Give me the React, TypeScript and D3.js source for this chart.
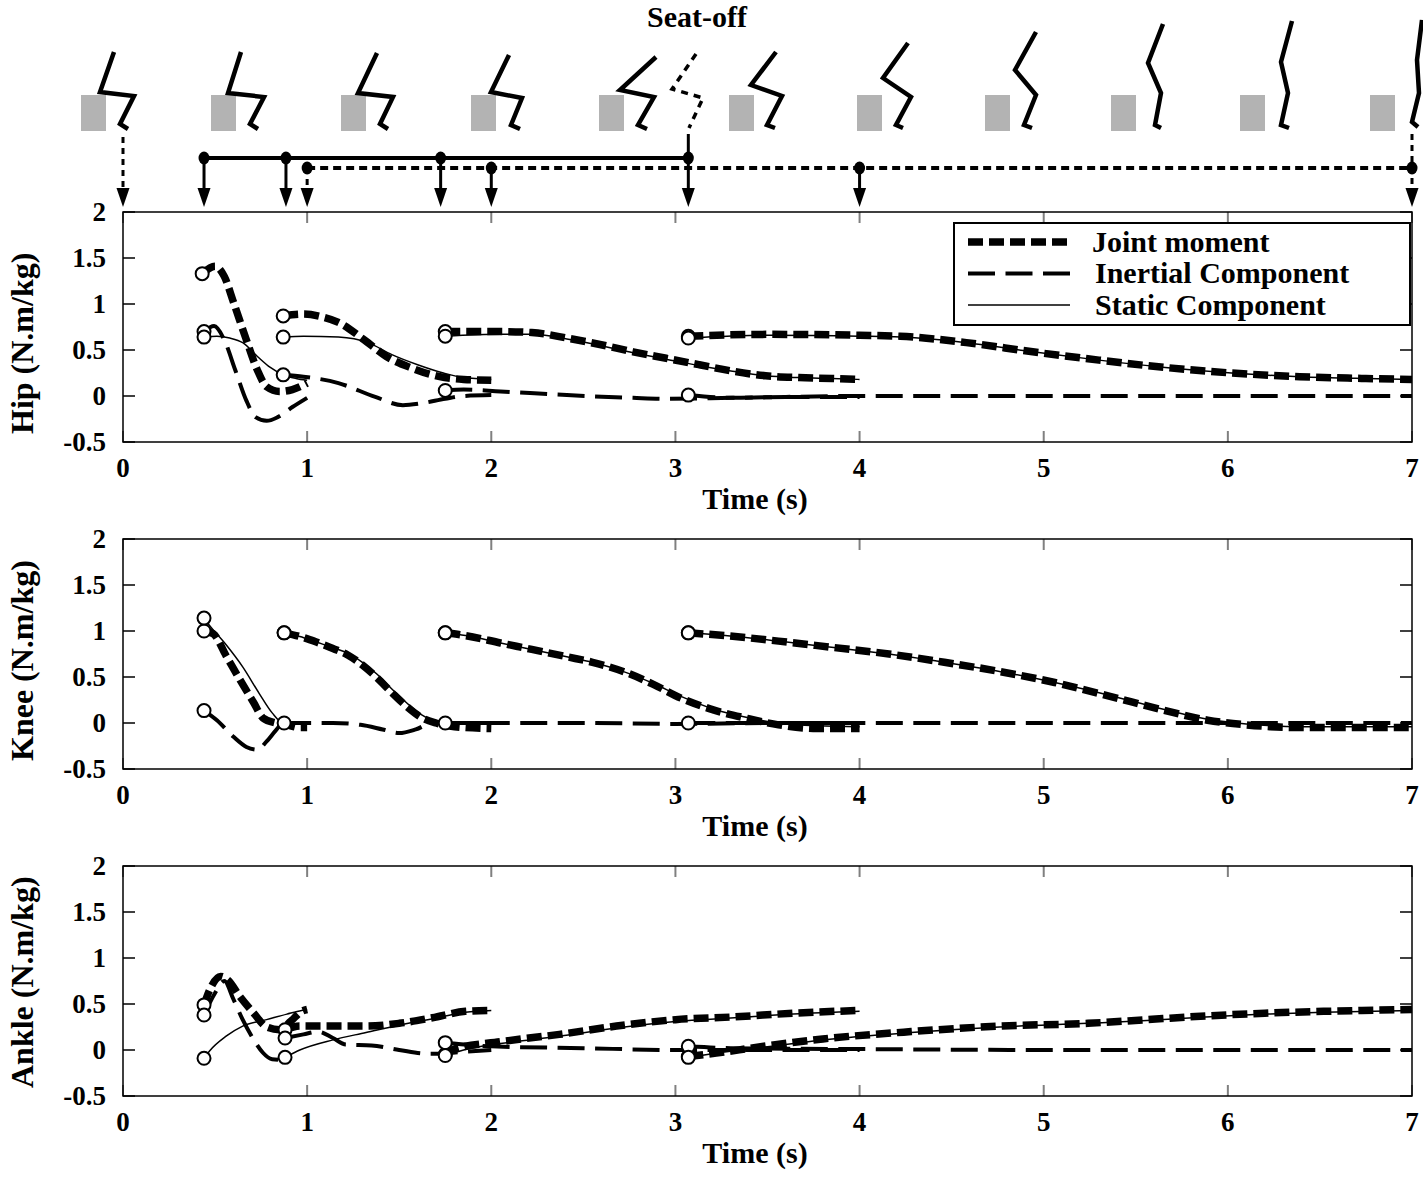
import * as d3 from "d3";

type Pt = [number, number];

// ---- axis ticks ----
const timeTicks = [0, 1, 2, 3, 4, 5, 6, 7];
const momentTicks = [-0.5, 0, 0.5, 1, 1.5, 2];
const momentTickLabels = ["-0.5", "0", "0.5", "1", "1.5", "2"];

// ---- events on the top strip (s) ----
const solidEvents = [0.44, 0.885, 1.725, 3.07];
const dottedEvents = [1.0, 2.0, 4.0, 7.0];

// ---- hip (N.m/kg), one array per trial segment ----
const hipJoint: Pt[][] = [
  [[0.43, 1.33], [0.5, 1.41], [0.55, 1.3], [0.6, 1.02], [0.67, 0.61], [0.73, 0.28], [0.78, 0.1], [0.85, 0.05], [0.92, 0.07], [1.0, 0.14]],
  [[0.87, 0.87], [0.98, 0.89], [1.08, 0.86], [1.17, 0.8], [1.31, 0.61], [1.43, 0.43], [1.56, 0.31], [1.72, 0.21], [1.85, 0.18], [2.0, 0.17]],
  [[1.75, 0.7], [2.05, 0.7], [2.22, 0.69], [2.41, 0.63], [2.59, 0.56], [2.77, 0.48], [2.95, 0.41], [3.13, 0.34], [3.31, 0.27], [3.49, 0.22], [3.67, 0.2], [3.85, 0.19], [4.0, 0.18]],
  [[3.07, 0.65], [3.5, 0.67], [4.0, 0.66], [4.22, 0.65], [4.58, 0.58], [4.94, 0.48], [5.3, 0.39], [5.66, 0.31], [6.02, 0.25], [6.39, 0.21], [6.75, 0.19], [7.0, 0.18]],
];
const hipInertial: Pt[][] = [
  [[0.44, 0.7], [0.495, 0.76], [0.55, 0.61], [0.61, 0.28], [0.67, -0.05], [0.72, -0.23], [0.78, -0.27], [0.84, -0.23], [0.92, -0.12], [1.0, -0.02]],
  [[0.87, 0.23], [0.98, 0.21], [1.17, 0.14], [1.37, -0.01], [1.52, -0.1], [1.62, -0.08], [1.75, -0.03], [1.85, 0.0], [2.0, 0.01]],
  [[1.75, 0.06], [1.85, 0.07], [2.05, 0.05], [2.41, 0.01], [2.77, -0.02], [2.95, -0.03], [3.31, -0.02], [3.67, -0.01], [4.0, -0.01]],
  [[3.07, 0.01], [3.3, -0.02], [3.6, -0.01], [4.0, 0.0], [5.0, 0.0], [6.0, 0.0], [7.0, 0.0]],
];
const hipStatic: Pt[][] = [
  [[0.44, 0.64], [0.51, 0.65], [0.58, 0.63], [0.65, 0.58], [0.73, 0.43], [0.8, 0.31], [0.87, 0.23], [0.94, 0.19], [1.0, 0.17]],
  [[0.87, 0.64], [0.98, 0.65], [1.17, 0.64], [1.33, 0.58], [1.46, 0.45], [1.6, 0.34], [1.74, 0.25], [1.85, 0.2], [2.0, 0.18]],
  [[1.75, 0.65], [2.05, 0.67], [2.22, 0.67], [2.41, 0.62], [2.59, 0.55], [2.77, 0.47], [2.95, 0.4], [3.13, 0.33], [3.31, 0.27], [3.49, 0.22], [3.67, 0.2], [3.85, 0.19], [4.0, 0.18]],
  [[3.07, 0.63], [3.5, 0.66], [4.0, 0.65], [4.22, 0.64], [4.58, 0.58], [4.94, 0.48], [5.3, 0.39], [5.66, 0.31], [6.02, 0.25], [6.39, 0.21], [6.75, 0.19], [7.0, 0.18]],
];

// ---- knee ----
const kneeJoint: Pt[][] = [
  [[0.44, 1.0], [0.49, 0.97], [0.56, 0.73], [0.635, 0.47], [0.71, 0.22], [0.76, 0.055], [0.83, 0.0], [0.89, -0.02], [0.96, -0.05], [1.0, -0.05]],
  [[0.875, 0.98], [0.96, 0.94], [1.05, 0.88], [1.14, 0.81], [1.22, 0.74], [1.3, 0.63], [1.38, 0.49], [1.46, 0.33], [1.54, 0.18], [1.62, 0.06], [1.7, 0.0], [1.8, -0.04], [2.0, -0.06]],
  [[1.75, 0.98], [1.86, 0.95], [2.05, 0.87], [2.22, 0.8], [2.41, 0.72], [2.55, 0.66], [2.73, 0.55], [2.88, 0.42], [3.03, 0.27], [3.21, 0.14], [3.39, 0.05], [3.56, -0.02], [3.77, -0.06], [4.0, -0.06]],
  [[3.07, 0.98], [3.27, 0.95], [3.56, 0.89], [3.86, 0.82], [4.16, 0.75], [4.46, 0.66], [4.76, 0.56], [5.06, 0.44], [5.36, 0.29], [5.65, 0.14], [5.89, 0.03], [6.1, -0.02], [6.4, -0.05], [6.7, -0.05], [7.0, -0.05]],
];
const kneeInertial: Pt[][] = [
  [[0.44, 0.135], [0.51, 0.03], [0.6, -0.15], [0.67, -0.26], [0.73, -0.29], [0.78, -0.2], [0.83, -0.08], [0.87, 0.0], [0.95, 0.0]],
  [[0.875, 0.0], [1.14, 0.0], [1.29, -0.02], [1.41, -0.07], [1.5, -0.11], [1.59, -0.07], [1.68, 0.0], [1.86, 0.0], [2.0, 0.0]],
  [[1.75, 0.0], [2.5, 0.0], [3.0, -0.01], [3.5, 0.0], [4.0, 0.0]],
  [[3.07, 0.0], [4.0, 0.0], [5.0, 0.0], [6.0, 0.0], [7.0, 0.0]],
];
const kneeStatic: Pt[][] = [
  [[0.44, 1.14], [0.47, 1.06], [0.56, 0.85], [0.65, 0.61], [0.74, 0.32], [0.81, 0.11], [0.87, 0.0], [0.92, 0.0]],
  [[0.875, 0.98], [0.96, 0.94], [1.05, 0.88], [1.14, 0.82], [1.22, 0.76], [1.3, 0.66], [1.38, 0.53], [1.46, 0.37], [1.54, 0.22], [1.62, 0.09], [1.7, 0.02], [1.8, 0.0]],
  [[1.75, 0.98], [1.86, 0.95], [2.05, 0.87], [2.22, 0.8], [2.41, 0.72], [2.55, 0.66], [2.73, 0.55], [2.88, 0.43], [3.03, 0.29], [3.21, 0.15], [3.39, 0.06], [3.56, 0.0], [3.77, -0.03], [4.0, -0.04]],
  [[3.07, 0.98], [3.27, 0.95], [3.56, 0.89], [3.86, 0.82], [4.16, 0.75], [4.46, 0.66], [4.76, 0.56], [5.06, 0.44], [5.36, 0.3], [5.65, 0.15], [5.89, 0.04], [6.1, -0.01], [6.4, -0.04], [6.7, -0.04], [7.0, -0.04]],
];

// ---- ankle ----
const ankleJoint: Pt[][] = [
  [[0.44, 0.49], [0.47, 0.65], [0.53, 0.8], [0.57, 0.76], [0.635, 0.58], [0.71, 0.4], [0.78, 0.25], [0.85, 0.22], [0.91, 0.31], [0.97, 0.42], [1.0, 0.44]],
  [[0.88, 0.22], [0.96, 0.26], [1.14, 0.26], [1.32, 0.26], [1.5, 0.29], [1.68, 0.35], [1.86, 0.42], [2.0, 0.43]],
  [[1.75, -0.05], [1.8, 0.01], [2.05, 0.09], [2.37, 0.17], [2.68, 0.26], [3.0, 0.33], [3.32, 0.36], [3.64, 0.4], [4.0, 0.43]],
  [[3.07, -0.07], [3.16, -0.05], [3.48, 0.04], [3.8, 0.12], [4.28, 0.2], [4.76, 0.26], [5.24, 0.29], [5.56, 0.33], [5.88, 0.37], [6.2, 0.4], [6.52, 0.42], [7.0, 0.44]],
];
const ankleInertial: Pt[][] = [
  [[0.44, 0.38], [0.5, 0.62], [0.55, 0.75], [0.6, 0.55], [0.65, 0.33], [0.72, 0.08], [0.76, -0.03], [0.81, -0.1], [0.9, -0.11]],
  [[0.88, 0.13], [0.98, 0.17], [1.06, 0.2], [1.14, 0.13], [1.21, 0.06], [1.35, 0.05], [1.5, 0.0], [1.65, -0.04], [1.72, -0.04], [1.85, -0.02], [2.0, 0.0]],
  [[1.75, 0.08], [2.0, 0.04], [2.5, 0.02], [3.0, 0.0], [3.5, 0.0], [4.0, 0.0]],
  [[3.07, 0.04], [3.3, 0.02], [4.0, 0.01], [5.0, 0.0], [6.0, 0.0], [7.0, 0.0]],
];
const ankleStatic: Pt[][] = [
  [[0.44, -0.09], [0.47, -0.01], [0.56, 0.15], [0.65, 0.26], [0.78, 0.33], [0.89, 0.39], [0.97, 0.43], [1.0, 0.44]],
  [[0.88, -0.08], [0.96, 0.0], [1.14, 0.11], [1.32, 0.19], [1.5, 0.27], [1.68, 0.34], [1.86, 0.41], [2.0, 0.43]],
  [[1.75, -0.06], [1.85, 0.0], [2.05, 0.07], [2.37, 0.15], [2.68, 0.24], [3.0, 0.31], [3.32, 0.35], [3.64, 0.39], [4.0, 0.42]],
  [[3.07, -0.08], [3.2, -0.04], [3.48, 0.03], [3.8, 0.11], [4.28, 0.19], [4.76, 0.25], [5.24, 0.29], [5.56, 0.32], [5.88, 0.36], [6.2, 0.39], [6.52, 0.41], [7.0, 0.43]],
];

const legendLabels = ["Joint moment", "Inertial Component", "Static Component"];

// stick figures of the sit-to-stand (pixel sketches: head/trunk, hip, knee, ankle, foot)
const figures: Pt[][] = [
  [[114, 52], [100, 92], [134, 96], [120, 124], [128, 129]],
  [[241, 52], [228, 93], [264, 97], [250, 124], [258, 129]],
  [[377, 53], [358, 93], [393, 97], [380, 124], [388, 129]],
  [[509, 55], [491, 92], [522, 98], [511, 125], [520, 129]],
  [[656, 57], [620, 90], [654, 97], [638, 125], [647, 129]],
  [[696, 54], [672, 89], [703, 98], [689, 128]],
  [[776, 52], [751, 85], [782, 96], [767, 125], [775, 128]],
  [[908, 43], [883, 78], [911, 97], [896, 125], [903, 128]],
  [[1036, 32], [1015, 70], [1036, 95], [1024, 125], [1032, 128]],
  [[1163, 24], [1148, 63], [1161, 93], [1155, 125], [1161, 128]],
  [[1292, 21], [1281, 62], [1288, 93], [1281, 125], [1289, 128]],
  [[1422, 20], [1417, 60], [1419, 93], [1412, 122], [1418, 127]],
];
const seatX = [81, 211, 341, 471, 599, 729, 857, 985, 1111, 1240, 1370];

const W = 1423;
const H = 1179;
const plotLeft = 123;
const plotRight = 1412;
const panelTop0 = 212;
const panelGap = 327;
const panelH = 230;
const FONT = "'Liberation Serif', 'Times New Roman', serif";

const x = d3.scaleLinear().domain([0, 7]).range([plotLeft, plotRight]);

const jointStyle = { stroke: "#000", strokeWidth: 7.5, strokeDasharray: "15 6", fill: "none" };
const inertialStyle = { stroke: "#000", strokeWidth: 4, strokeDasharray: "27 10.5", fill: "none" };
const staticStyle = { stroke: "#000", strokeWidth: 1.5, fill: "none" };

interface PanelProps {
  index: number;
  name: string;
  joint: Pt[][];
  inertial: Pt[][];
  statics: Pt[][];
  legend?: boolean;
}

function Panel({ index, name, joint, inertial, statics, legend }: PanelProps) {
  const top = panelTop0 + index * panelGap;
  const bottom = top + panelH;
  const y = d3.scaleLinear().domain([-0.5, 2]).range([bottom, top]);
  const line = d3
    .line<Pt>()
    .x((d) => x(d[0]))
    .y((d) => y(d[1]))
    .curve(d3.curveMonotoneX);

  const markers: Pt[] = [...joint, ...inertial, ...statics].map((s) => s[0]);

  return (
    <g>
      {/* ticks */}
      {timeTicks.map((t) => (
        <g key={"xt" + t}>
          <line x1={x(t)} x2={x(t)} y1={top} y2={top + 11} stroke="#808080" strokeWidth={2} />
          <line x1={x(t)} x2={x(t)} y1={bottom} y2={bottom - 11} stroke="#808080" strokeWidth={2} />
          <text x={x(t)} y={bottom + 35} textAnchor="middle" fontSize={27} fontWeight="bold">
            {t}
          </text>
        </g>
      ))}
      {momentTicks.map((v, i) => (
        <g key={"yt" + v}>
          <line x1={plotLeft} x2={plotLeft + 12} y1={y(v)} y2={y(v)} stroke="#000" strokeWidth={1.5} />
          <line x1={plotRight} x2={plotRight - 12} y1={y(v)} y2={y(v)} stroke="#000" strokeWidth={1.5} />
          <text x={106} y={y(v)} dy="0.35em" textAnchor="end" fontSize={27} fontWeight="bold">
            {momentTickLabels[i]}
          </text>
        </g>
      ))}
      <rect x={plotLeft} y={top} width={plotRight - plotLeft} height={panelH} fill="none" stroke="#000" strokeWidth={1.5} />

      {/* curves */}
      {joint.map((s, i) => (
        <path key={"j" + i} d={line(s) ?? ""} {...jointStyle} />
      ))}
      {inertial.map((s, i) => (
        <path key={"i" + i} d={line(s) ?? ""} {...inertialStyle} />
      ))}
      {statics.map((s, i) => (
        <path key={"s" + i} d={line(s) ?? ""} {...staticStyle} />
      ))}
      {markers.map((p, i) => (
        <circle key={"m" + i} cx={x(p[0])} cy={y(p[1])} r={6.5} fill="#fff" stroke="#000" strokeWidth={2} />
      ))}

      {/* axis titles */}
      <text x={755} y={bottom + 67} textAnchor="middle" fontSize={30} fontWeight="bold">
        Time (s)
      </text>
      <text
        transform={`translate(33,${bottom - 8}) rotate(-90)`}
        textAnchor="start"
        fontSize={32}
        fontWeight="bold"
      >
        {name} (N.m/kg)
      </text>

      {legend && (
        <g>
          <rect x={954} y={top + 11} width={456} height={102} fill="#fff" stroke="#000" strokeWidth={2} />
          {legendLabels.map((lab, i) => {
            const ly = top + 30 + i * 31.5;
            const st = [jointStyle, inertialStyle, staticStyle][i];
            return (
              <g key={lab}>
                <line x1={968} x2={1070} y1={ly} y2={ly} {...st} />
                <text x={i === 0 ? 1092 : 1095} y={ly} dy="0.33em" fontSize={30} fontWeight="bold">
                  {lab}
                </text>
              </g>
            );
          })}
        </g>
      )}
    </g>
  );
}

function TopStrip() {
  const solidY = 158;
  const dottedY = 168;
  const baseY = 188;
  const tipY = 207;
  const head = (cx: number) => `${cx - 6.5},${baseY} ${cx + 6.5},${baseY} ${cx},${tipY}`;
  const segLine = d3.line<Pt>();
  return (
    <g>
      <text x={697} y={27} textAnchor="middle" fontSize={30} fontWeight="bold">
        Seat-off
      </text>
      {seatX.map((sx) => (
        <rect key={sx} x={sx} y={95} width={25} height={36} fill="#b3b3b3" />
      ))}
      {figures.map((f, i) => (
        <path
          key={"fig" + i}
          d={segLine(f) ?? ""}
          fill="none"
          stroke="#000"
          strokeWidth={i === 5 ? 3.5 : 4.5}
          strokeDasharray={i === 5 ? "7 6" : undefined}
          strokeLinejoin="miter"
        />
      ))}

      {/* start: dashed arrow from first figure to t = 0 */}
      <line x1={x(0)} x2={x(0)} y1={137} y2={baseY} stroke="#000" strokeWidth={3} strokeDasharray="6 5" />
      <polygon points={head(x(0))} fill="#000" />

      {/* solid event bar */}
      <line x1={x(solidEvents[0])} x2={x(solidEvents[solidEvents.length - 1])} y1={solidY} y2={solidY} stroke="#000" strokeWidth={4} />
      {solidEvents.map((t, i) => (
        <g key={"se" + t}>
          <line
            x1={x(t)}
            x2={x(t)}
            y1={i === solidEvents.length - 1 ? 134 : solidY}
            y2={baseY}
            stroke="#000"
            strokeWidth={3}
          />
          <ellipse cx={x(t)} cy={solidY} rx={5.5} ry={6.5} fill="#000" />
          <polygon points={head(x(t))} fill="#000" />
        </g>
      ))}

      {/* dotted event bar */}
      <line
        x1={x(dottedEvents[0])}
        x2={x(dottedEvents[dottedEvents.length - 1])}
        y1={dottedY}
        y2={dottedY}
        stroke="#000"
        strokeWidth={4}
        strokeDasharray="8 5"
      />
      {dottedEvents.map((t, i) => {
        const last = i === dottedEvents.length - 1;
        const dashed = i === 0 || last;
        return (
          <g key={"de" + t}>
            <line
              x1={x(t)}
              x2={x(t)}
              y1={last ? 134 : dottedY}
              y2={baseY}
              stroke="#000"
              strokeWidth={3}
              strokeDasharray={dashed ? "6 5" : undefined}
            />
            <ellipse cx={x(t)} cy={dottedY} rx={5.5} ry={6.5} fill="#000" />
            <polygon points={head(x(t))} fill="#000" />
          </g>
        );
      })}
    </g>
  );
}

export default function App() {
  return (
    <svg
      width={W}
      height={H}
      viewBox={`0 0 ${W} ${H}`}
      style={{ position: "absolute", left: 0, top: 0, background: "#fff" }}
      fontFamily={FONT}
    >
      <rect width={W} height={H} fill="#fff" />
      <TopStrip />
      <Panel index={0} name="Hip" joint={hipJoint} inertial={hipInertial} statics={hipStatic} legend />
      <Panel index={1} name="Knee" joint={kneeJoint} inertial={kneeInertial} statics={kneeStatic} />
      <Panel index={2} name="Ankle" joint={ankleJoint} inertial={ankleInertial} statics={ankleStatic} />
    </svg>
  );
}
